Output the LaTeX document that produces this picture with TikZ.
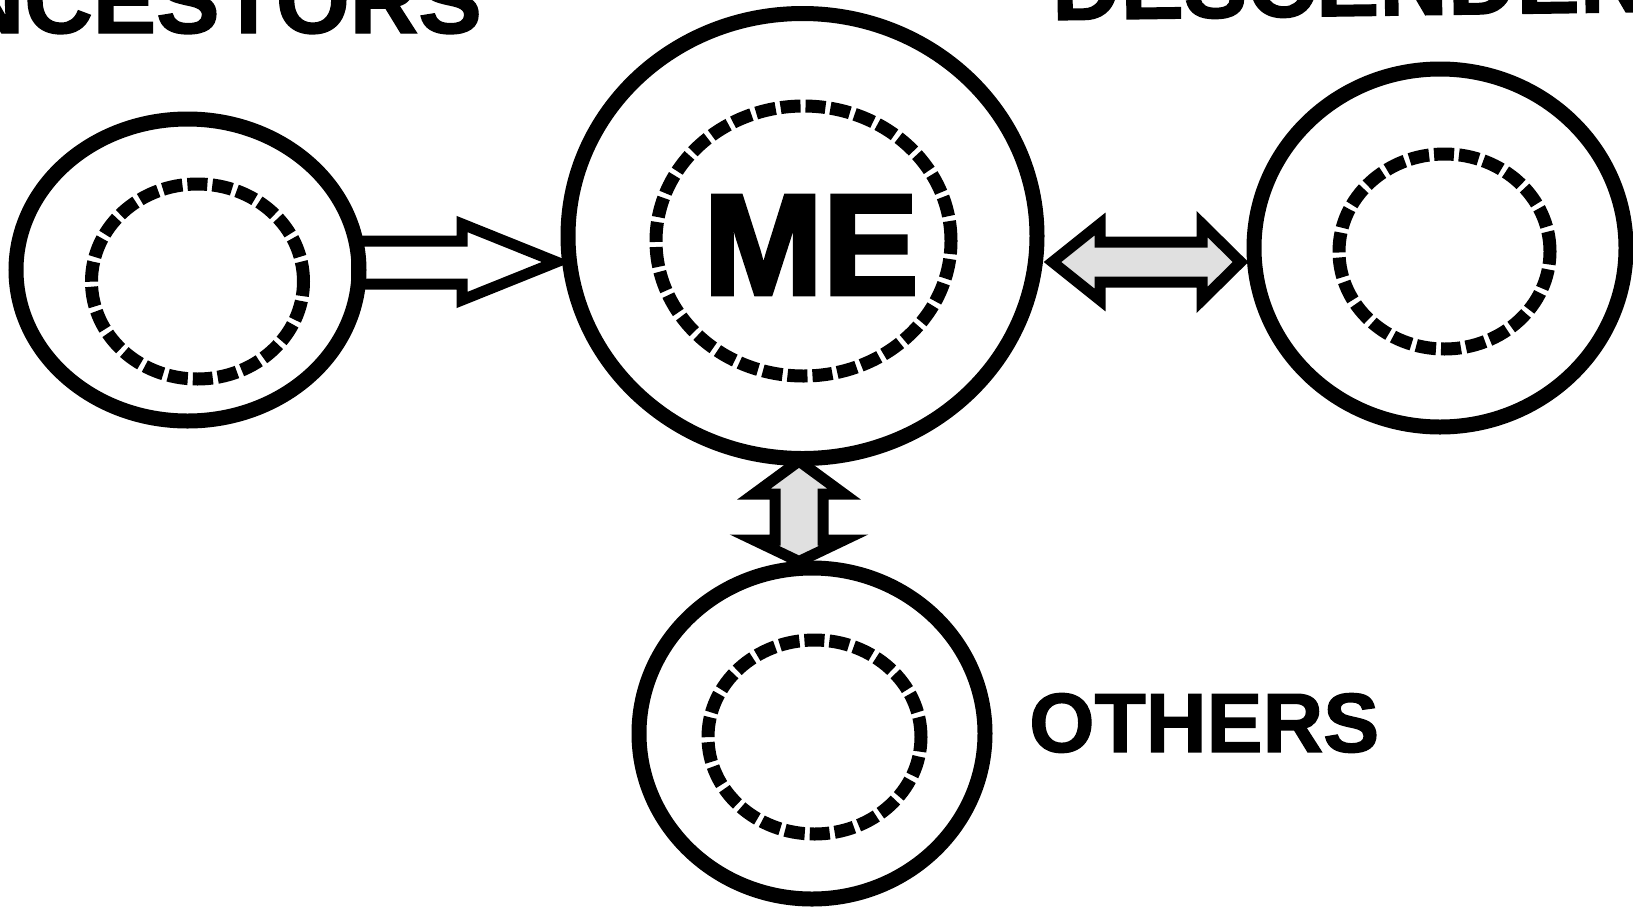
\documentclass[tikz,border=0pt]{standalone}
\usepackage{fontspec}
\setmainfont{Liberation Sans}
\newfontfamily\heavyfont[FakeBold=3]{Liberation Sans Bold}
\newfontfamily\semiheavyfont[FakeBold=1.5]{Liberation Sans Bold}
\usetikzlibrary{shapes.geometric,backgrounds}
\tikzset{
  outerring/.style={draw=black, ellipse, line width=15pt, inner sep=0pt},
  innerring/.style={draw=black, ellipse, line width=13pt, inner sep=0pt, dash pattern=on 20pt off 5pt},
  blockarrow/.style={draw=black, line width=11pt, line join=miter, miter limit=20},
  whitearrow/.style={blockarrow, fill=white},
  greyarrow/.style={blockarrow, fill=black!12},
  txt/.style={inner sep=0pt}
}
\begin{document}
\begin{tikzpicture}[x=1pt,y=-1pt]
\useasboundingbox (0,0) rectangle (1633,906);
% circles
\node[outerring, minimum width=343pt, minimum height=302pt] (anc) at (187.5,270) {};
\node[innerring, minimum width=212pt, minimum height=195pt] (ancin) at (197.5,281.5) {};
\node[outerring, minimum width=469pt, minimum height=445pt] (me) at (802.5,236) {};
\node[innerring, minimum width=295pt, minimum height=270pt] (mein) at (803.5,241) {};
\node[outerring, minimum width=372pt, minimum height=358pt] (desc) at (1440,248) {};
\node[innerring, minimum width=211pt, minimum height=195pt] (descin) at (1444.5,251.5) {};
\node[outerring, minimum width=346pt, minimum height=331pt] (oth) at (812,733.5) {};
\node[innerring, minimum width=213pt, minimum height=194pt] (othin) at (814.5,737) {};
% texts
\node[txt, font=\heavyfont\fontsize{143}{143}\selectfont] (metext) at (811,245) {ME};
\node[txt, font=\semiheavyfont\fontsize{84}{84}\selectfont, anchor=west] (othtext) at (1029,723) {OTHERS};
\node[txt, font=\semiheavyfont\fontsize{95}{95}\selectfont, anchor=base east] (anctext) at (482,33) {ANCESTORS};
\node[txt, font=\semiheavyfont\fontsize{95}{95}\selectfont, anchor=base west, rotate=0.8] (desctext) at (1052,20) {DESCENDENTS};
% arrows
\begin{scope}[on background layer]
\draw[whitearrow] ([xshift=-10pt]anc.east |- 0,241) -- (462,241) -- (462,224)
  -- ([xshift=-4pt]me.west |- 0,262) -- (462,300) -- (462,284) -- ([xshift=-10pt]anc.east |- 0,284) -- cycle;
\draw[greyarrow] ([xshift=8pt]me.east |- 0,262) -- (1100,224) -- (1100,242) -- (1202,242) -- (1202,224)
  -- ([xshift=-6pt]desc.west |- 0,262) -- (1202,300) -- (1202,282) -- (1100,282) -- (1100,300) -- cycle;
\draw[greyarrow] ([yshift=5pt]me.south -| 799,0) -- (754,494) -- (775,494) -- (775,540) -- (754,540)
  -- ([yshift=-1pt]oth.north -| 799,0) -- (844,540) -- (823,540) -- (823,494) -- (844,494) -- cycle;
\end{scope}
\end{tikzpicture}
\end{document}
